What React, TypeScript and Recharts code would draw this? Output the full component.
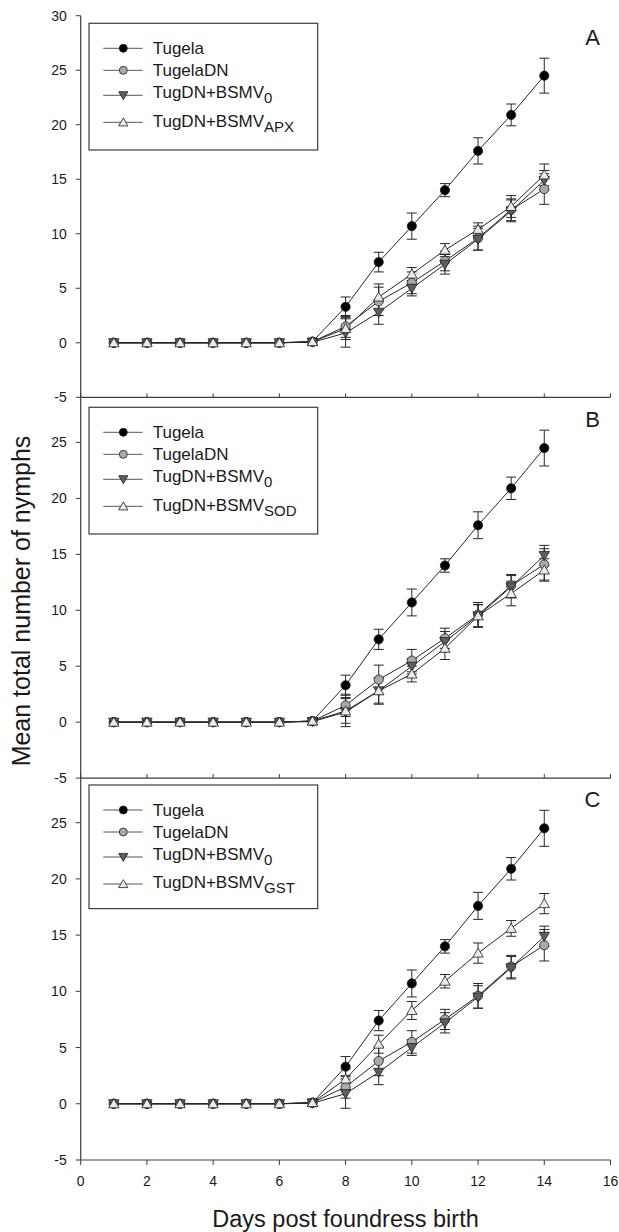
import React from 'react'
import { LineChart, Line, XAxis, YAxis, ErrorBar } from 'recharts'

// days 1-14, values (mean total nymphs, +/- SE)
const days = [1, 2, 3, 4, 5, 6, 7, 8, 9, 10, 11, 12, 13, 14]

const tugela = [0, 0, 0, 0, 0, 0, 0.1, 3.3, 7.4, 10.7, 14.0, 17.6, 20.9, 24.5]
const tugelaErr = [null, null, null, null, null, null, 0.3, 0.9, 0.9, 1.2, 0.6, 1.2, 1.0, 1.6]

const tugelaDN = [0, 0, 0, 0, 0, 0, 0.1, 1.5, 3.8, 5.5, 7.5, 9.6, 12.2, 14.1]
const tugelaDNErr = [null, null, null, null, null, null, 0.3, 1.0, 1.3, 1.0, 0.9, 1.1, 1.0, 1.4]

const bsmv0 = [0, 0, 0, 0, 0, 0, 0.05, 0.9, 2.8, 5.0, 7.2, 9.5, 12.1, 14.9]
const bsmv0Err = [null, null, null, null, null, null, 0.3, 1.3, 1.1, 0.7, 0.9, 1.0, 1.0, 0.9]

const apx = [0, 0, 0, 0, 0, 0, 0.1, 1.3, 4.2, 6.3, 8.5, 10.4, 12.5, 15.4]
const apxErr = [null, null, null, null, null, null, 0.3, 1.0, 1.2, 0.6, 0.6, 0.6, 1.0, 1.0]

const sod = [0, 0, 0, 0, 0, 0, 0.1, 1.0, 2.8, 4.3, 6.6, 9.5, 11.5, 13.6]
const sodErr = [null, null, null, null, null, null, 0.3, 1.1, 1.2, 0.7, 1.0, 1.0, 1.1, 1.0]

const gst = [0, 0, 0, 0, 0, 0, 0.1, 2.2, 5.3, 8.3, 10.9, 13.4, 15.6, 17.8]
const gstErr = [null, null, null, null, null, null, 0.3, 0.9, 0.8, 0.8, 0.6, 0.9, 0.7, 0.9]

const xTicks = [0, 2, 4, 6, 8, 10, 12, 14, 16]
const yTicksA = [-5, 0, 5, 10, 15, 20, 25, 30]
const yTicksBC = [-5, 0, 5, 10, 15, 20, 25]

const font = '"Liberation Sans", Arial, Helvetica, sans-serif'
const ink = '#1a1a1a'
const frame = '#3c3c3c'
const lineCol = '#262626'

const PLOT_LEFT = 80.7
const PLOT_RIGHT = 610.5
const TOP_PAD = 15.7

function build(trt: number[], trtErr: (number | null)[]) {
  return days.map((d, i) => ({
    day: d,
    tug: tugela[i], tugErr: tugelaErr[i],
    dn: tugelaDN[i], dnErr: tugelaDNErr[i],
    b0: bsmv0[i], b0Err: bsmv0Err[i],
    trt: trt[i], trtErr: trtErr[i],
  }))
}

const circle = (fill: string) => (p: any) =>
  p.cx == null ? <g key={`c${p.index}`} /> : <circle key={`c${p.index}`} cx={p.cx} cy={p.cy} r={4.6} fill={fill} stroke="#1e1e1e" strokeWidth={0.8} />

const triDown = (fill: string) => (p: any) =>
  p.cx == null ? <g key={`t${p.index}`} /> : (
    <polygon key={`t${p.index}`} points={`${p.cx - 5.2},${p.cy - 4} ${p.cx + 5.2},${p.cy - 4} ${p.cx},${p.cy + 5}`} fill={fill} stroke="#1e1e1e" strokeWidth={0.8} />
  )

const triUp = (fill: string) => (p: any) =>
  p.cx == null ? <g key={`u${p.index}`} /> : (
    <polygon key={`u${p.index}`} points={`${p.cx - 5.2},${p.cy + 4} ${p.cx + 5.2},${p.cy + 4} ${p.cx},${p.cy - 5}`} fill={fill} stroke="#1e1e1e" strokeWidth={0.8} />
  )

const FILL_TUG = '#000000'
const FILL_DN = '#a9a9a9'
const FILL_B0 = '#5e5e5e'
const FILL_TRT = '#ebebeb'

interface PanelProps {
  data: ReturnType<typeof build>
  top: number
  plotH: number
  domain: [number, number]
  yTicks: number[]
  last?: boolean
}

function Panel({ data, top, plotH, domain, yTicks, last }: PanelProps) {
  const bottomH = last ? 40 : 14
  const err = { width: 5, stroke: lineCol, strokeWidth: 1 }
  return (
    <div style={{ position: 'absolute', left: 0, top: top - TOP_PAD }}>
      <LineChart width={619} height={TOP_PAD + plotH + bottomH} data={data}
        margin={{ top: TOP_PAD, right: 619 - PLOT_RIGHT, bottom: 0, left: PLOT_LEFT - 60 }}>
        <XAxis dataKey="day" type="number" domain={[0, 16]} ticks={xTicks} interval={0} height={bottomH}
          axisLine={{ stroke: frame, strokeWidth: 1.2 }} tickLine={{ stroke: frame }}
          tickSize={last ? 5 : -4} tickMargin={last ? 11 : 0}
          tick={{ fill: ink, fontSize: 14, fontFamily: font }}
          tickFormatter={last ? (v: number) => String(v) : () => ''} />
        <XAxis xAxisId="top" orientation="top" dataKey="day" type="number" domain={[0, 16]} height={0}
          tick={false} tickLine={false} axisLine={{ stroke: frame, strokeWidth: 1.2 }} />
        <YAxis type="number" domain={domain} ticks={yTicks} interval={0} width={60} allowDataOverflow
          axisLine={{ stroke: frame, strokeWidth: 1.2 }} tickLine={{ stroke: frame }} tickSize={5} tickMargin={9}
          tick={{ fill: ink, fontSize: 14, fontFamily: font }} />
        <YAxis yAxisId="r" orientation="right" type="number" domain={domain} width={0}
          tick={false} tickLine={false} axisLine={{ stroke: frame, strokeWidth: 1.2 }} />
        <Line type="linear" dataKey="tug" stroke={lineCol} strokeWidth={1} dot={circle(FILL_TUG)} activeDot={false} isAnimationActive={false}>
          <ErrorBar dataKey="tugErr" {...err} />
        </Line>
        <Line type="linear" dataKey="dn" stroke={lineCol} strokeWidth={1} dot={circle(FILL_DN)} activeDot={false} isAnimationActive={false}>
          <ErrorBar dataKey="dnErr" {...err} />
        </Line>
        <Line type="linear" dataKey="b0" stroke={lineCol} strokeWidth={1} dot={triDown(FILL_B0)} activeDot={false} isAnimationActive={false}>
          <ErrorBar dataKey="b0Err" {...err} />
        </Line>
        <Line type="linear" dataKey="trt" stroke={lineCol} strokeWidth={1} dot={triUp(FILL_TRT)} activeDot={false} isAnimationActive={false}>
          <ErrorBar dataKey="trtErr" {...err} />
        </Line>
      </LineChart>
    </div>
  )
}

// legend rows: line offset from box top, text baseline offset
const legendRows = [
  { line: 25, base: 30.5, label: 'Tugela', sub: '', mark: 'circ', fill: FILL_TUG },
  { line: 47, base: 52.7, label: 'TugelaDN', sub: '', mark: 'circ', fill: FILL_DN },
  { line: 72, base: 75, label: 'TugDN+BSMV', sub: '0', mark: 'down', fill: FILL_B0 },
  { line: 99, base: 103.4, label: 'TugDN+BSMV', sub: 'TRT', mark: 'up', fill: FILL_TRT },
]

function Key({ x, y, h, sub }: { x: number; y: number; h: number; sub: string }) {
  return (
    <g>
      <rect x={x} y={y} width={228.7} height={h} fill="#fff" stroke={frame} strokeWidth={1.2} />
      {legendRows.map((r, i) => {
        const ly = y + r.line
        const mx = x + 34.3
        let mark: React.ReactNode
        if (r.mark === 'circ') mark = <circle cx={mx} cy={ly} r={4} fill={r.fill} stroke="#1e1e1e" strokeWidth={0.8} />
        else if (r.mark === 'down') mark = <polygon points={`${mx - 4.6},${ly - 3.6} ${mx + 4.6},${ly - 3.6} ${mx},${ly + 4.4}`} fill={r.fill} stroke="#1e1e1e" strokeWidth={0.8} />
        else mark = <polygon points={`${mx - 4.6},${ly + 3.6} ${mx + 4.6},${ly + 3.6} ${mx},${ly - 4.4}`} fill={r.fill} stroke="#1e1e1e" strokeWidth={0.8} />
        const s = r.sub === 'TRT' ? sub : r.sub
        return (
          <g key={i}>
            <line x1={x + 14.3} x2={x + 53.7} y1={ly} y2={ly} stroke="#555" strokeWidth={1} />
            {mark}
            <text x={x + 63.7} y={y + r.base} fontSize={17} fill={ink} fontFamily={font}>
              {r.label}
              {s && <tspan fontSize={15} dy={5}>{s}</tspan>}
            </text>
          </g>
        )
      })}
    </g>
  )
}

const panels = [
  { letter: 'A', top: 15.7, plotH: 381.6, domain: [-5, 30] as [number, number], yTicks: yTicksA, data: build(apx, apxErr), sub: 'APX', keyTop: 7.6, keyH: 126.7 },
  { letter: 'B', top: 397.3, plotH: 380.4, domain: [-5, 29] as [number, number], yTicks: yTicksBC, data: build(sod, sodErr), sub: 'SOD', keyTop: 10, keyH: 126.7 },
  { letter: 'C', top: 777.7, plotH: 382.3, domain: [-5, 29] as [number, number], yTicks: yTicksBC, data: build(gst, gstErr), sub: 'GST', keyTop: 7.3, keyH: 123.6 },
]

export default function App() {
  return (
    <div style={{ position: 'absolute', left: 0, top: 0, width: 619, height: 1232, background: '#fff', fontFamily: font }}>
      {panels.map((p, i) => (
        <Panel key={p.letter} data={p.data} top={p.top} plotH={p.plotH} domain={p.domain} yTicks={p.yTicks} last={i === panels.length - 1} />
      ))}
      <svg width={619} height={1232} style={{ position: 'absolute', left: 0, top: 0, pointerEvents: 'none' }}>
        {panels.map((p) => (
          <g key={p.letter}>
            <Key x={89} y={p.top + p.keyTop} h={p.keyH} sub={p.sub} />
            <text x={592.5} y={p.top + 29.5} fontSize={22} textAnchor="middle" fill={ink} fontFamily={font}>{p.letter}</text>
          </g>
        ))}
        <text transform="translate(30,601) rotate(-90)" textAnchor="middle" fontSize={25} fill={ink} fontFamily={font}>
          Mean total number of nymphs
        </text>
        <text x={345.5} y={1227} textAnchor="middle" fontSize={23.5} fill={ink} fontFamily={font}>
          Days post foundress birth
        </text>
      </svg>
    </div>
  )
}
